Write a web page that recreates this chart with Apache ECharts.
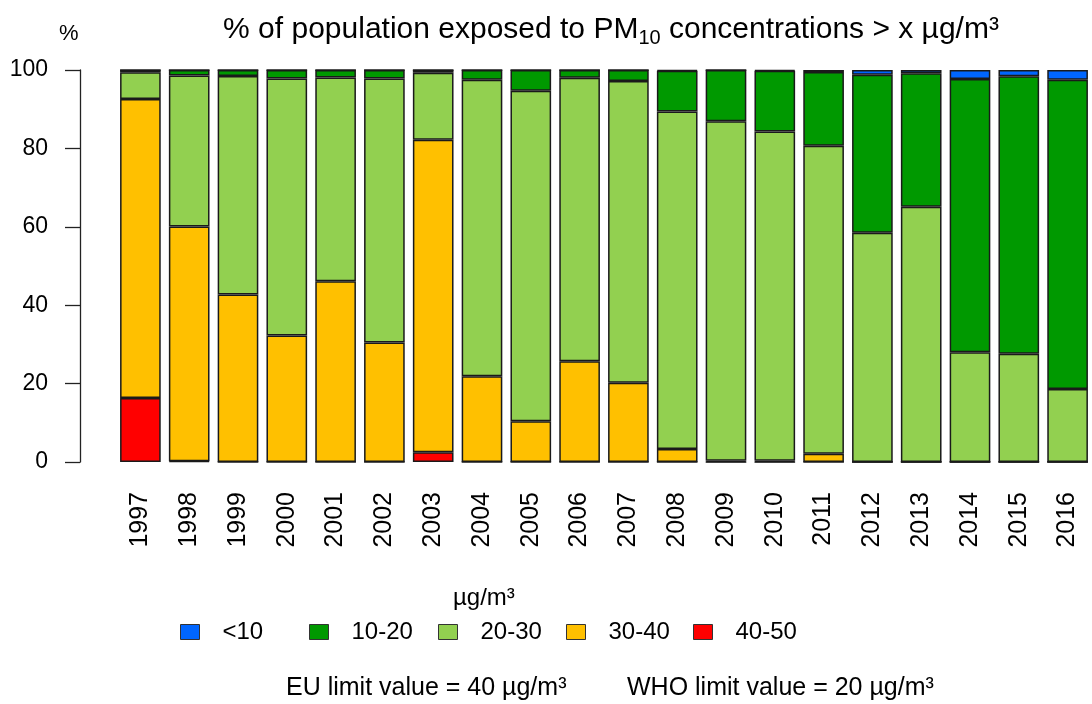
<!DOCTYPE html>
<html lang="en">
<head>
    <meta charset="utf-8">
    <title>PM10 exposure</title>
    <script src="https://cdn.jsdelivr.net/npm/echarts@6/dist/echarts.min.js"></script>
    <style>
        html, body { margin: 0; padding: 0; background: #fff; }
        #main { width: 1092px; height: 704px; }
    </style>
</head>
<body>
<div id="main"></div>
<script type="text/javascript">
    // years on the x axis
    var years = ['1997', '1998', '1999', '2000', '2001', '2002', '2003', '2004', '2005', '2006',
                 '2007', '2008', '2009', '2010', '2011', '2012', '2013', '2014', '2015', '2016'];

    // share of population (%) in each concentration band
    var band4050 = [16.3, 0.2, 0, 0, 0, 0, 2.5, 0, 0, 0, 0, 0, 0, 0, 0, 0, 0, 0, 0, 0];
    var band3040 = [76.3, 59.9, 42.7, 32.3, 46.1, 30.5, 79.7, 21.9, 10.4, 25.7, 20.2, 3.3, 0.3, 0.3, 2.1, 0, 0, 0, 0, 0];
    var band2030 = [6.8, 38.5, 55.8, 65.5, 52.0, 67.3, 17.1, 75.6, 84.3, 72.3, 77.0, 86.1, 86.6, 84.0, 78.6, 58.5, 65.1, 28.0, 27.6, 18.6];
    var band1020 = [0.6, 1.4, 1.5, 2.2, 1.9, 2.2, 0.7, 2.5, 5.3, 2.0, 2.8, 10.4, 13.1, 15.5, 18.8, 40.3, 34.1, 69.7, 70.8, 78.9];
    var bandLt10 = [0, 0, 0, 0, 0, 0, 0, 0, 0, 0, 0, 0.2, 0, 0.2, 0.5, 1.2, 0.8, 2.3, 1.6, 2.5];

    var yTicks = [0, 20, 40, 60, 80, 100];

    var font = 'Liberation Sans, Arial, Helvetica, sans-serif';

    var bands = [
        { name: '40-50', data: band4050, color: '#ff0000' },
        { name: '30-40', data: band3040, color: '#ffc000' },
        { name: '20-30', data: band2030, color: '#92d050' },
        { name: '10-20', data: band1020, color: '#009900' },
        { name: '<10',   data: bandLt10, color: '#0066ff' }
    ];

    var series = bands.map(function (b) {
        return {
            name: b.name,
            type: 'bar',
            stack: 'pop',
            barCategoryGap: '16.7%',
            data: b.data,
            itemStyle: { color: b.color, borderColor: '#1a1a1a', borderWidth: 1.5 },
            emphasis: { disabled: true }
        };
    });

    // legend reads left to right from <10 to 40-50, one box each
    var legendOrder = ['<10', '10-20', '20-30', '30-40', '40-50'];
    var legendLeft = [180, 309, 438, 566, 693];
    var legends = legendOrder.map(function (n, i) {
        return {
            data: [n],
            left: legendLeft[i],
            top: 619,
            padding: 0,
            orient: 'horizontal',
            itemWidth: 19,
            itemHeight: 15,
            itemGap: 0,
            icon: 'rect',
            selectedMode: false,
            itemStyle: { borderColor: '#333', borderWidth: 1 },
            textStyle: { fontFamily: font, fontSize: 24, color: '#000', lineHeight: 26, padding: [0, 0, 0, 18] }
        };
    });

    var myChart = echarts.init(document.getElementById('main'), null, { renderer: 'canvas' });

    myChart.setOption({
        animation: false,
        backgroundColor: '#fff',
        title: {
            text: '% of population exposed to PM{sub|10} concentrations > x µg/m³',
            left: 611,
            top: 12,
            padding: 0,
            textAlign: 'center',
            textStyle: {
                fontFamily: font,
                fontSize: 30,
                fontWeight: 'normal',
                color: '#000',
                lineHeight: 36,
                rich: {
                    sub: { fontFamily: font, fontSize: 20, verticalAlign: 'bottom', lineHeight: 20, color: '#000' }
                }
            }
        },
        legend: legends,
        grid: { left: 116, top: 70, width: 988, height: 392, containLabel: false },
        xAxis: {
            type: 'category',
            data: years,
            axisLine: { show: false },
            axisTick: { show: false },
            axisLabel: {
                interval: 0,
                rotate: 90,
                margin: 30,
                fontFamily: font,
                fontSize: 25,
                color: '#000'
            }
        },
        yAxis: {
            type: 'value',
            min: yTicks[0],
            max: yTicks[yTicks.length - 1],
            interval: 20,
            offset: 36,
            axisLine: { show: true, lineStyle: { color: '#222', width: 1.3 } },
            axisTick: { show: true, length: 15, lineStyle: { color: '#222', width: 1.3 } },
            splitLine: { show: false },
            axisLabel: { margin: 32, fontFamily: font, fontSize: 23, color: '#000' }
        },
        graphic: [
            { type: 'text', left: 59, top: 23, style: { text: '%', font: '22px ' + font, fill: '#000' } },
            { type: 'text', left: 453, top: 586, style: { text: 'µg/m³', font: '24px ' + font, fill: '#000' } },
            { type: 'text', left: 286, top: 676, style: { text: 'EU limit value = 40 µg/m³', font: '25px ' + font, fill: '#000' } },
            { type: 'text', left: 627, top: 676, style: { text: 'WHO limit value = 20 µg/m³', font: '25px ' + font, fill: '#000' } }
        ],
        series: series
    });
</script>
</body>
</html>
